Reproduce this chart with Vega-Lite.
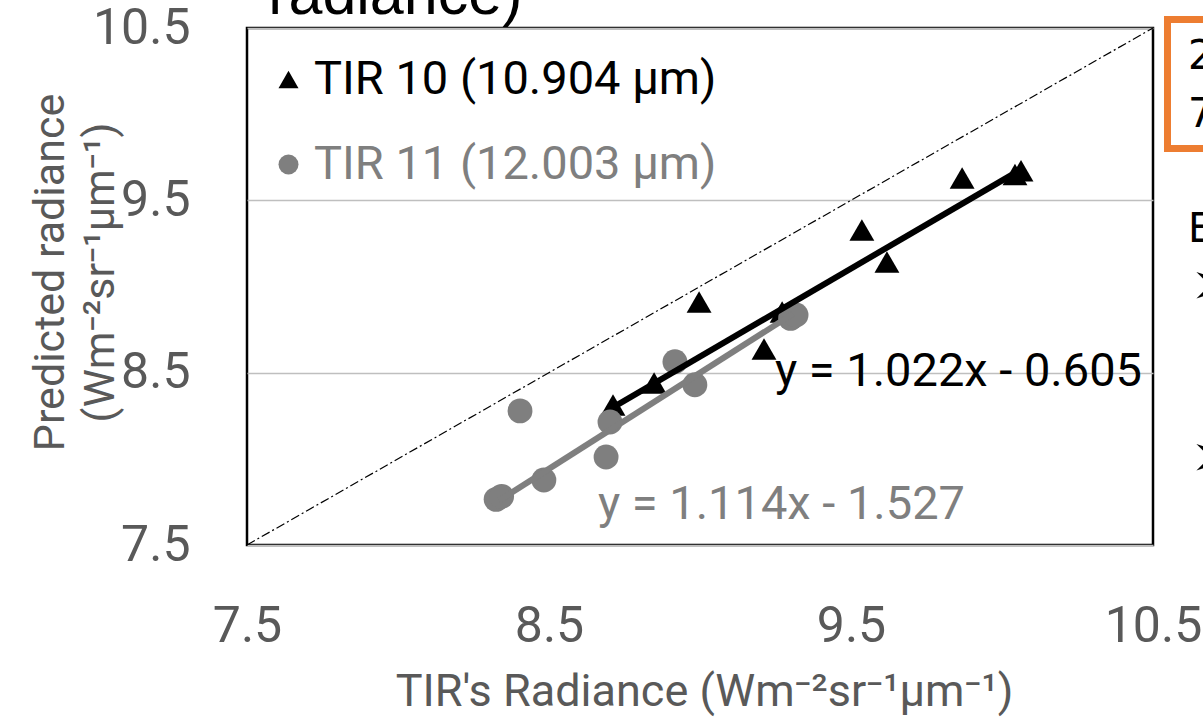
{
  "$schema": "https://vega.github.io/schema/vega-lite/v6.json",
  "width": 906,
  "height": 517,
  "autosize": {"type": "none"},
  "padding": {"left": 247, "top": 28, "right": 50, "bottom": 175},
  "background": "white",
  "config": {
    "view": {"stroke": "#000000", "strokeWidth": 2.5},
    "font": "Roboto"
  },
  "datasets": {
    "points": [
      {"x": 8.712, "y": 8.312, "series": "TIR 10 (10.904 µm)"},
      {"x": 8.848, "y": 8.440, "series": "TIR 10 (10.904 µm)"},
      {"x": 8.997, "y": 8.910, "series": "TIR 10 (10.904 µm)"},
      {"x": 9.212, "y": 8.637, "series": "TIR 10 (10.904 µm)"},
      {"x": 9.272, "y": 8.852, "series": "TIR 10 (10.904 µm)"},
      {"x": 9.536, "y": 9.328, "series": "TIR 10 (10.904 µm)"},
      {"x": 9.619, "y": 9.142, "series": "TIR 10 (10.904 µm)"},
      {"x": 9.868, "y": 9.630, "series": "TIR 10 (10.904 µm)"},
      {"x": 10.043, "y": 9.650, "series": "TIR 10 (10.904 µm)"},
      {"x": 10.063, "y": 9.672, "series": "TIR 10 (10.904 µm)"},
      {"x": 8.325, "y": 7.765, "series": "TIR 11 (12.003 µm)"},
      {"x": 8.343, "y": 7.782, "series": "TIR 11 (12.003 µm)"},
      {"x": 8.483, "y": 7.877, "series": "TIR 11 (12.003 µm)"},
      {"x": 8.404, "y": 8.278, "series": "TIR 11 (12.003 µm)"},
      {"x": 8.689, "y": 8.011, "series": "TIR 11 (12.003 µm)"},
      {"x": 8.702, "y": 8.214, "series": "TIR 11 (12.003 µm)"},
      {"x": 8.917, "y": 8.563, "series": "TIR 11 (12.003 µm)"},
      {"x": 8.983, "y": 8.430, "series": "TIR 11 (12.003 µm)"},
      {"x": 9.300, "y": 8.815, "series": "TIR 11 (12.003 µm)"},
      {"x": 9.318, "y": 8.835, "series": "TIR 11 (12.003 µm)"}
    ],
    "diag": [{"x": 7.5, "y": 7.5}, {"x": 10.5, "y": 10.5}],
    "trend10": [{"x": 8.712, "y": 8.299}, {"x": 10.053, "y": 9.669}],
    "trend11": [{"x": 8.334, "y": 7.757}, {"x": 9.308, "y": 8.842}],
    "eq10": [{"x": 9.248, "y": 8.504, "label": "y = 1.022x - 0.605"}],
    "eq11": [{"x": 8.662, "y": 7.732, "label": "y = 1.114x - 1.527"}],
    "box": [{"x": 10.548, "y": 9.801, "x2": 10.95, "y2": 10.549}],
    "sidetext": [
      {"x": 10.616, "y": 10.332, "label": "2"},
      {"x": 10.616, "y": 9.995, "label": "7"},
      {"x": 10.616, "y": 9.328, "label": "E"}
    ],
    "arrows": [
      {"x": 10.622, "y": 9.003, "label": "➢"},
      {"x": 10.622, "y": 8.005, "label": "➢"}
    ],
    "toptext": [{"x": 7.57, "y": 10.58, "label": "radiance)"}]
  },
  "encoding": {
    "x": {
      "field": "x",
      "type": "quantitative",
      "scale": {"domain": [7.5, 10.5], "nice": false, "zero": false},
      "axis": {
        "values": [7.5, 8.5, 9.5, 10.5],
        "format": ".1f",
        "grid": false,
        "domain": false,
        "ticks": false,
        "tickSize": 0,
        "labelPadding": 56,
        "labelFont": "Roboto",
        "labelFontSize": 50,
        "labelColor": "#595959",
        "labelFlush": false,
        "labelOverlap": false,
        "title": "TIR's Radiance (Wm⁻²sr⁻¹µm⁻¹)",
        "titleFont": "Roboto",
        "titleFontSize": 45,
        "titleFontWeight": "normal",
        "titleColor": "#595959",
        "titleX": 457,
        "titleY": 160,
        "titleAlign": "center",
        "titleBaseline": "alphabetic"
      }
    },
    "y": {
      "field": "y",
      "type": "quantitative",
      "scale": {"domain": [7.5, 10.5], "nice": false, "zero": false},
      "axis": {
        "values": [7.5, 8.5, 9.5, 10.5],
        "format": ".1f",
        "grid": true,
        "gridColor": "#bfbfbf",
        "gridWidth": 1.5,
        "domain": false,
        "ticks": false,
        "tickSize": 0,
        "labelPadding": 57,
        "labelFont": "Roboto",
        "labelFontSize": 50,
        "labelColor": "#595959",
        "labelFlush": false,
        "labelOverlap": false,
        "title": ["Predicted radiance", "(Wm⁻²sr⁻¹µm⁻¹)"],
        "titleFont": "Roboto",
        "titleFontSize": 43,
        "titleFontWeight": "normal",
        "titleColor": "#595959",
        "titleLineHeight": 50,
        "titleAngle": -90,
        "titleX": -197,
        "titleY": 244,
        "titleAlign": "center",
        "titleBaseline": "middle"
      }
    }
  },
  "layer": [
    {
      "data": {"name": "diag"},
      "mark": {"type": "line", "color": "#000000", "strokeWidth": 1.2, "strokeDash": [9, 3, 2, 3]},
      "encoding": {}
    },
    {
      "data": {"name": "points"},
      "mark": {"type": "point", "filled": true, "opacity": 1, "size": 620},
      "encoding": {
        "shape": {"field": "series", "type": "nominal", "scale": {"domain": ["TIR 10 (10.904 µm)", "TIR 11 (12.003 µm)"], "range": ["triangle-up", "circle"]}},
        "color": {"field": "series", "type": "nominal", "scale": {"domain": ["TIR 10 (10.904 µm)", "TIR 11 (12.003 µm)"], "range": ["#000000", "#7f7f7f"]},
          "legend": {
            "orient": "none",
            "legendX": 18,
            "legendY": 28,
            "title": null,
            "padding": 0,
            "labelFont": "Roboto",
            "labelFontSize": 47,
            "labelColor": {"expr": "datum.label == 'TIR 11 (12.003 µm)' ? '#7f7f7f' : '#000000'"},
            "labelOffset": 2,
            "labelLimit": 800,
            "symbolSize": 400,
            "symbolStrokeWidth": 0,
            "rowPadding": 37
          }
        }
      }
    },
    {
      "data": {"name": "trend10"},
      "mark": {"type": "line", "color": "#000000", "strokeWidth": 6},
      "encoding": {}
    },
    {
      "data": {"name": "trend11"},
      "mark": {"type": "line", "color": "#7f7f7f", "strokeWidth": 6},
      "encoding": {}
    },
    {
      "data": {"name": "eq10"},
      "mark": {"type": "text", "align": "left", "baseline": "middle", "font": "Roboto", "fontSize": 47, "color": "#000000"},
      "encoding": {"text": {"field": "label"}}
    },
    {
      "data": {"name": "eq11"},
      "mark": {"type": "text", "align": "left", "baseline": "middle", "font": "Roboto", "fontSize": 47, "color": "#7f7f7f"},
      "encoding": {"text": {"field": "label"}}
    },
    {
      "data": {"name": "box"},
      "mark": {"type": "rect", "fill": null, "fillOpacity": 0, "stroke": "#ED7D31", "strokeWidth": 7},
      "encoding": {"x2": {"field": "x2"}, "y2": {"field": "y2"}}
    },
    {
      "data": {"name": "sidetext"},
      "mark": {"type": "text", "align": "left", "baseline": "middle", "font": "DejaVu Sans", "fontSize": 40, "color": "#000000"},
      "encoding": {"text": {"field": "label"}}
    },
    {
      "data": {"name": "arrows"},
      "mark": {"type": "text", "align": "left", "baseline": "middle", "font": "DejaVu Sans", "fontSize": 60, "color": "#000000"},
      "encoding": {"text": {"field": "label"}}
    },
    {
      "data": {"name": "toptext"},
      "mark": {"type": "text", "align": "left", "baseline": "alphabetic", "font": "Liberation Sans", "fontSize": 61, "color": "#000000"},
      "encoding": {"text": {"field": "label"}}
    }
  ]
}
